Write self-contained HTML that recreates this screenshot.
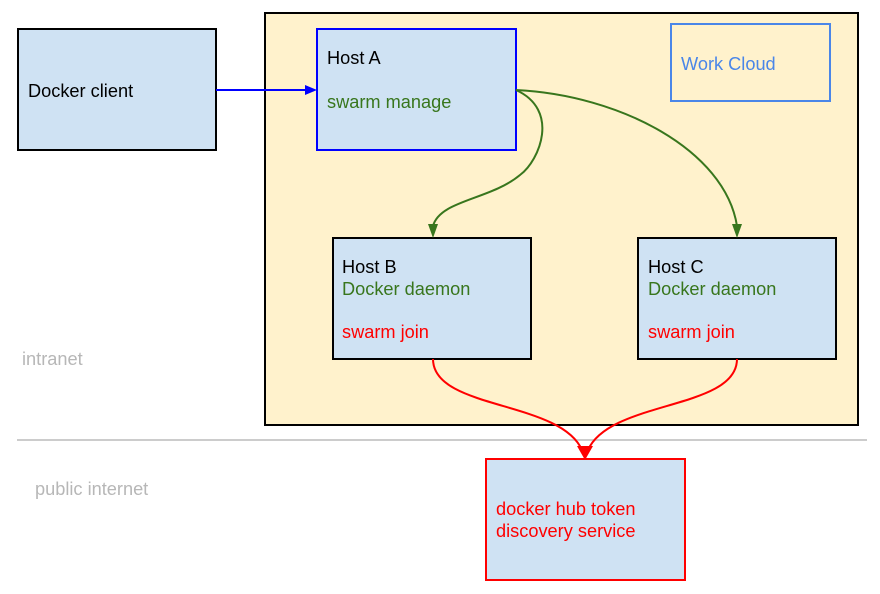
<!DOCTYPE html>
<html><head><style>body{margin:0;background:#fff}svg{display:block}text{font-family:"Liberation Sans",sans-serif;font-size:18.2px}</style></head><body>
<svg width="880" height="594" viewBox="0 0 880 594">
<rect x="265" y="13" width="593" height="412" fill="#fff2cc" stroke="#000" stroke-width="2"/>
<line x1="17" y1="440" x2="867" y2="440" stroke="#ccc" stroke-width="2"/>
<text x="22" y="365" fill="#b7b7b7">intranet</text>
<text x="35" y="495" fill="#b7b7b7">public internet</text>
<rect x="18" y="29" width="198" height="121" fill="#cfe2f3" stroke="#000" stroke-width="2"/>
<text x="28" y="97" fill="#000">Docker client</text>
<rect x="317" y="29" width="199" height="121" fill="#cfe2f3" stroke="#0000ff" stroke-width="2"/>
<text x="327" y="64" fill="#000">Host A</text>
<text x="327" y="108" fill="#38761d">swarm manage</text>
<rect x="671" y="24" width="159" height="77" fill="none" stroke="#4a86e8" stroke-width="2"/>
<text x="681" y="70" fill="#4a86e8">Work Cloud</text>
<rect x="333" y="238" width="198" height="121" fill="#cfe2f3" stroke="#000" stroke-width="2"/>
<text x="342" y="273" fill="#000">Host B</text>
<text x="342" y="295" fill="#38761d">Docker daemon</text>
<text x="342" y="338" fill="#ff0000">swarm join</text>
<rect x="638" y="238" width="198" height="121" fill="#cfe2f3" stroke="#000" stroke-width="2"/>
<text x="648" y="273" fill="#000">Host C</text>
<text x="648" y="295" fill="#38761d">Docker daemon</text>
<text x="648" y="338" fill="#ff0000">swarm join</text>
<rect x="486" y="459" width="199" height="121" fill="#cfe2f3" stroke="#ff0000" stroke-width="2"/>
<text x="496" y="515" fill="#ff0000">docker hub token</text>
<text x="496" y="537" fill="#ff0000">discovery service</text>
<path d="M216,90L306,90" stroke="#0000ff" stroke-width="2" fill="none"/>
<path d="M305,85L317,90L305,95z" fill="#0000ff"/>
<path d="M516,90C560,110 540,160 520,175C490,200 440,200 433,226" stroke="#38761d" stroke-width="2" fill="none"/>
<path d="M428,224L433,238L438,224z" fill="#38761d"/>
<path d="M516,90C620,95 725,150 737,226" stroke="#38761d" stroke-width="2" fill="none"/>
<path d="M732,224L737,238L742,224z" fill="#38761d"/>
<path d="M433,359C433,410 560,400 582,450" stroke="#ff0000" stroke-width="2" fill="none"/>
<path d="M737,359C737,410 610,400 588,450" stroke="#ff0000" stroke-width="2" fill="none"/>
<path d="M577,446L593,446L585,460z" fill="#ff0000"/>
</svg>
</body></html>
